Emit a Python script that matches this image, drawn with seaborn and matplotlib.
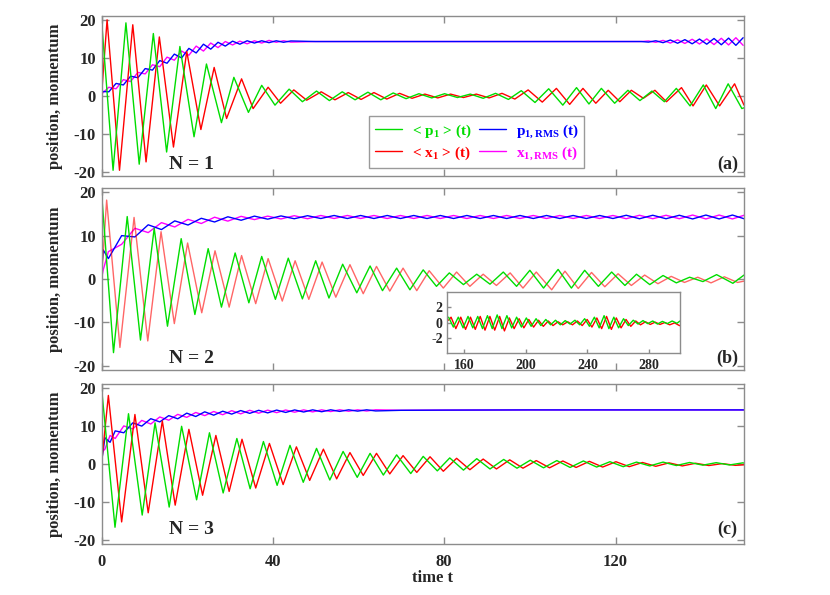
import numpy as np
import pandas as pd
import seaborn as sns
import matplotlib.pyplot as plt
from matplotlib.lines import Line2D

# ---------------------------------------------
# damped oscillations of <p1>, <x1> and the RMS widths, N = 1, 2, 3
# values are the extrema
# ---------------------------------------------

# ---- panel (a): N = 1 ----
a_p_t = [0.0, 2.7, 5.7, 8.8, 12.1, 15.2, 18.3, 21.6, 24.5, 28.0, 30.9, 34.3, 37.4, 40.5, 43.8, 46.9,
         50.2, 53.2, 56.2, 59.2, 62.2, 65.2, 68.1, 71.1, 74.1, 77.1, 80.1, 83.1, 86.1, 89.1, 92.0, 95.0,
         98.0, 101.2, 104.4, 107.7, 110.9, 113.8, 116.7, 119.8, 122.9, 125.7, 128.5, 131.4, 134.2, 137.4,
         140.5, 143.4, 146.3, 149.5, 150.0]
a_p = [20.0, -19.5, 19.2, -17.9, 16.4, -14.7, 13.0, -10.7, 8.4, -7.0, 4.9, -4.3, 2.8, -2.4, 1.8, -1.5,
       1.3, -1.2, 1.1, -1.0, 1.0, -1.0, 0.8, -0.7, 0.6, -0.5, 0.6, -0.4, 0.5, -0.6, 0.7, -0.9,
       1.4, -1.7, 1.9, -2.4, 2.2, -2.1, 2.0, -1.9, 1.5, -1.2, 1.3, -1.5, 2.0, -2.6,
       2.9, -3.3, 3.2, -3.3, -3.1]
a_x_t = [0.0, 1.3, 4.2, 7.3, 10.4, 13.5, 16.8, 19.9, 23.2, 26.3, 29.2, 32.7, 35.4, 38.9, 41.8, 44.9,
         47.9, 51.3, 54.5, 57.6, 60.6, 63.6, 66.6, 69.6, 72.5, 75.5, 78.5, 81.5, 84.5, 87.5, 90.5, 93.5,
         96.5, 99.6, 102.9, 106.2, 109.3, 112.4, 115.4, 118.3, 121.0, 123.7, 126.5, 129.2, 131.9, 135.4,
         138.1, 141.2, 144.3, 147.8, 150.0]
a_x = [0.0, 20.0, -19.5, 18.7, -17.3, 15.5, -13.4, 11.7, -8.8, 7.5, -5.9, 4.5, -3.3, 2.3, -1.9, 1.6,
       -1.1, 1.1, -1.0, 0.9, -0.9, 0.9, -0.8, 0.7, -0.6, 0.5, -0.5, 0.5, -0.4, 0.5, -0.5, 0.7,
       -0.8, 1.6, -1.6, 2.0, -2.2, 2.0, -1.9, 1.5, -1.5, 1.5, -0.6, 1.5, -1.5, 2.2,
       -2.6, 2.9, -2.6, 3.2, -2.4]
a_rms_t = [0.0, 1.7, 3.4, 5.1, 6.8, 8.5, 10.2, 11.9, 13.6, 15.3, 17.0, 18.7, 20.4, 22.1, 23.8, 25.5,
           27.2, 28.9, 30.6, 32.3, 34.0, 35.7, 37.4, 39.1, 40.8, 42.5, 44.2,
           50.0, 60.0, 70.0, 80.0, 90.0, 100.0, 110.0, 120.0, 126.0,
           127.7, 129.4, 131.1, 132.8, 134.5, 136.2, 137.9, 139.6, 141.3, 143.0, 144.7, 146.4, 148.1, 149.8]
a_p_rms = [1.2, 1.1, 3.3, 2.9, 5.2, 4.8, 7.2, 6.8, 9.3, 8.6, 11.0, 10.0, 12.5, 11.3, 13.6, 12.3,
           14.1, 13.1, 14.4, 13.6, 14.5, 13.9, 14.5, 14.0, 14.5, 14.1, 14.45,
           14.3, 14.3, 14.3, 14.3, 14.3, 14.3, 14.3, 14.3, 14.3,
           14.15, 14.5, 14.0, 14.7, 13.85, 14.8, 13.7, 14.95, 13.6, 15.1, 13.45, 15.2, 13.3, 15.3]
a_x_rms = [0.5, 2.3, 1.9, 4.3, 3.8, 6.2, 5.8, 8.2, 7.7, 10.2, 9.4, 11.8, 10.7, 13.1, 11.8, 13.9,
           12.7, 14.3, 13.4, 14.4, 13.7, 14.5, 13.9, 14.6, 14.1, 14.5, 14.15,
           14.3, 14.3, 14.3, 14.3, 14.3, 14.3, 14.3, 14.3, 14.3,
           14.45, 14.1, 14.6, 13.9, 14.75, 13.8, 14.9, 13.65, 15.0, 13.5, 15.15, 13.4, 15.3, 13.3]

# ---- panel (b): N = 2 ----
b_p_t = [0.0, 2.8, 6.0, 9.1, 12.3, 15.4, 18.6, 21.8, 24.9, 28.0, 31.2, 34.4, 37.4, 40.6, 43.6, 46.9,
         50.0, 53.1, 56.3, 59.6, 62.7, 65.6, 68.9, 72.0, 75.1, 78.2, 81.2, 84.5, 87.6, 90.7, 93.8, 96.9,
         100.0, 103.2, 106.6, 109.7, 112.8, 116.0, 119.1, 122.2, 124.9, 128.0, 131.1, 134.2, 137.3, 140.4,
         143.6, 147.4, 150.0]
b_p = [20.0, -17.0, 14.4, -14.1, 11.7, -10.9, 9.3, -8.2, 7.0, -6.5, 6.0, -5.5, 5.2, -4.7, 4.8, -4.6,
       4.2, -4.4, 3.4, -3.2, 3.0, -2.7, 2.5, -2.5, 2.1, -1.7, 1.4, -1.3, 1.1, -1.2, 1.6, -1.7,
       2.0, -2.1, 2.2, -2.1, 2.0, -1.7, 1.6, -1.5, 1.1, -1.3, 0.8, -0.9, 0.4, -0.6,
       1.0, -1.0, 0.9]
b_x_t = [0.0, 1.2, 4.3, 7.6, 10.8, 13.9, 17.0, 20.1, 23.4, 26.5, 29.8, 32.7, 36.0, 38.9, 42.2, 45.2,
         48.4, 51.5, 54.7, 58.0, 61.1, 64.2, 67.3, 70.4, 73.6, 76.5, 79.8, 82.9, 86.0, 89.1, 92.2, 95.4,
         98.4, 101.5, 105.1, 108.2, 111.3, 114.4, 117.5, 120.6, 123.7, 126.8, 129.9, 133.0, 136.1, 139.2,
         142.3, 145.4, 148.5, 150.0]
b_x = [0.0, 18.2, -15.8, 14.2, -14.3, 10.9, -10.3, 8.3, -7.8, 6.5, -6.5, 5.4, -5.7, 4.7, -5.1, 4.2,
       -4.7, 3.9, -4.2, 3.3, -3.4, 2.9, -2.8, 2.5, -2.7, 1.9, -2.1, 1.6, -1.7, 1.1, -1.5, 1.4,
       -2.1, 1.6, -2.5, 1.8, -2.2, 1.5, -1.8, 1.2, -1.5, 0.9, -1.1, 0.6, -0.8, 0.4,
       -0.9, 0.5, -0.8, -0.5]
b_rms_t = [0.0, 0.4, 1.6, 4.7, 7.8, 10.9, 14.0, 17.1, 20.2, 23.3, 26.4, 29.5, 32.6, 35.7, 38.8, 41.9,
           45.0, 48.1, 51.2, 54.3, 57.4, 60.5, 63.6, 66.7, 69.8, 72.9, 76.0, 79.1, 82.2, 85.3, 88.4, 91.5,
           94.6, 97.7, 100.8, 103.9, 107.0, 110.1, 113.2, 116.3, 119.4, 122.5, 125.6, 128.7, 131.8, 134.9,
           138.0, 141.1, 144.2, 147.3, 150.0]
b_p_rms = [1.7, 6.7, 4.7, 10.0, 9.7, 12.5, 11.4, 13.4, 12.45, 14.0, 13.15, 14.35, 13.55, 14.5, 13.8, 14.55,
           13.9, 14.6, 13.95, 14.65, 13.95, 14.65, 13.95, 14.65, 13.95, 14.65, 13.95, 14.65, 13.95, 14.65, 13.95, 14.65,
           13.95, 14.65, 13.95, 14.65, 13.95, 14.65, 13.95, 14.65, 13.95, 14.7, 13.9, 14.7, 13.9, 14.7,
           13.85, 14.75, 13.85, 14.75, 13.9]
b_x_rms = [0.0, 2.1, 6.3, 8.0, 11.7, 10.7, 13.0, 12.0, 13.75, 12.8, 14.25, 13.35, 14.45, 13.7, 14.5, 13.85,
           14.6, 13.9, 14.65, 13.95, 14.65, 13.95, 14.65, 13.95, 14.65, 13.95, 14.65, 13.95, 14.65, 13.95, 14.65, 13.95,
           14.65, 13.95, 14.65, 13.95, 14.65, 13.95, 14.65, 13.95, 14.65, 13.9, 14.7, 13.9, 14.7, 13.9,
           14.75, 13.85, 14.75, 13.85, 14.7]

# inset of panel (b): later times
ins_p_t = [150.0, 153.1, 156.3, 159.4, 162.6, 165.7, 168.9, 172.0, 175.2, 178.3, 181.5, 184.6, 187.8, 190.9,
           194.1, 197.2, 200.4, 203.5, 206.7, 209.8, 213.0, 216.1, 219.3, 222.4, 225.6, 228.7, 231.9, 235.0,
           238.2, 241.3, 244.5, 247.6, 250.8, 253.9, 257.1, 260.2, 263.4, 266.5, 269.7, 272.8, 276.0, 279.1,
           282.3, 285.4, 288.6, 291.7, 294.9, 298.0, 300.0]
ins_p = [0.7, -0.6, 0.7, -0.7, 0.8, -0.7, 0.8, -0.8, 0.9, -0.8, 1.0, -0.8, 0.9, -0.7,
         0.7, -0.6, 0.6, -0.5, 0.5, -0.4, 0.4, -0.3, 0.3, -0.3, 0.25, -0.2, 0.3, -0.3,
         0.5, -0.5, 0.7, -0.7, 0.9, -0.8, 0.7, -0.7, 0.5, -0.4, 0.3, -0.2, 0.25, -0.15,
         0.2, -0.2, 0.15, -0.15, 0.2, -0.1, 0.2]
ins_x_t = [150.0, 151.6, 154.7, 157.9, 161.0, 164.2, 167.3, 170.5, 173.6, 176.8, 179.9, 183.1, 186.2, 189.4,
           192.5, 195.7, 198.8, 202.0, 205.1, 208.3, 211.4, 214.6, 217.7, 220.9, 224.0, 227.2, 230.3, 233.5,
           236.6, 239.8, 242.9, 246.1, 249.2, 252.4, 255.5, 258.7, 261.8, 265.0, 268.1, 271.3, 274.4, 277.6,
           280.7, 283.9, 287.0, 290.2, 293.3, 296.5, 299.6, 300.0]
ins_x = [0.3, 0.7, -0.8, 0.7, -0.9, 0.7, -0.9, 0.8, -1.0, 0.8, -1.0, 0.8, -1.1, 0.6,
         -0.8, 0.5, -0.7, 0.4, -0.6, 0.3, -0.5, 0.2, -0.4, 0.1, -0.3, 0.1, -0.3, 0.2,
         -0.4, 0.4, -0.6, 0.6, -0.8, 0.8, -0.9, 0.6, -0.7, 0.4, -0.5, 0.2, -0.3, 0.1,
         -0.25, 0.05, -0.25, 0.0, -0.3, -0.05, -0.4, -0.4]

# ---- panel (c): N = 3 ----
c_p_t = [0.0, 3.15, 6.3, 9.5, 12.5, 15.8, 18.7, 22.2, 25.2, 28.4, 31.6, 34.7, 37.8, 41.0, 44.0, 47.1,
         50.2, 53.3, 56.4, 59.7, 62.7, 65.8, 68.9, 72.2, 75.1, 78.4, 81.3, 84.5, 87.6, 90.7, 93.9, 97.0,
         100.1, 103.2, 106.3, 109.4, 112.5, 115.6, 118.7, 121.8, 124.9, 128.0, 131.1, 134.2, 137.3, 140.4,
         143.5, 146.6, 149.7, 150.0]
c_p = [20.0, -16.6, 13.2, -13.4, 10.8, -11.3, 9.9, -9.4, 8.2, -7.6, 6.7, -6.5, 5.9, -5.6, 4.9, -4.8,
       4.1, -4.2, 3.3, -3.5, 2.8, -2.9, 2.4, -2.5, 2.0, -1.8, 1.6, -1.6, 1.4, -1.3, 1.2, -1.1,
       1.0, -1.0, 0.9, -0.9, 0.8, -0.8, 0.6, -0.7, 0.5, -0.5, 0.5, -0.4, 0.4, -0.3,
       0.35, -0.25, 0.3, 0.25]
c_x_t = [0.0, 1.6, 4.7, 7.8, 10.9, 14.2, 17.2, 20.4, 23.6, 26.7, 29.8, 32.8, 36.0, 39.2, 42.4, 45.5,
         48.6, 51.8, 54.9, 58.0, 61.1, 64.2, 67.3, 70.4, 73.6, 76.7, 79.8, 82.9, 86.0, 89.1, 92.2, 95.3,
         98.4, 101.5, 104.6, 107.7, 110.8, 113.9, 117.0, 120.1, 123.2, 126.3, 129.4, 132.5, 135.6, 138.7,
         141.8, 144.9, 148.0, 150.0]
c_x = [0.0, 18.0, -15.2, 13.0, -12.8, 11.3, -10.8, 9.1, -8.2, 7.5, -7.2, 6.5, -6.3, 5.4, -5.4, 4.5,
       -4.3, 3.9, -3.9, 3.0, -3.0, 2.8, -2.6, 2.2, -2.2, 1.9, -1.9, 1.5, -1.5, 1.3, -1.3, 1.1,
       -1.1, 0.9, -1.0, 0.8, -0.9, 0.7, -0.8, 0.6, -0.7, 0.4, -0.6, 0.3, -0.5, 0.2,
       -0.4, 0.1, -0.35, -0.2]
c_rms_t = [0.0, 0.8, 2.0, 3.2, 5.2, 7.3, 9.4, 11.5, 13.6, 15.7, 17.8, 19.9, 22.0, 24.1, 26.2, 28.3,
           30.4, 32.5, 34.6, 36.7, 38.8, 40.9, 43.0, 45.1, 47.2, 49.3, 51.4, 53.5, 55.6, 57.7, 59.8, 61.9,
           64.0, 70.0, 80.0, 100.0, 120.0, 150.0]
c_p_rms = [0.4, 6.9, 5.7, 8.7, 8.2, 10.8, 9.95, 11.9, 11.05, 12.7, 11.87, 13.35, 12.47, 13.7, 12.82, 13.86,
           13.1, 14.03, 13.3, 14.1, 13.42, 14.16, 13.54, 14.2, 13.65, 14.22, 13.72, 14.23, 13.81, 14.23, 13.88, 14.23,
           13.93, 14.1, 14.15, 14.2, 14.2, 14.2]
c_x_rms = [3.0, 3.9, 7.5, 6.7, 10.0, 9.2, 11.45, 10.5, 12.35, 11.5, 13.03, 12.25, 13.53, 12.7, 13.78, 12.94,
           14.0, 13.17, 14.1, 13.34, 14.14, 13.48, 14.18, 13.6, 14.21, 13.68, 14.22, 13.77, 14.23, 13.85, 14.22, 13.91,
           14.23, 14.1, 14.15, 14.2, 14.2, 14.2]

# colours / labels
GREEN, RED, BLUE, MAGENTA = '#00dd00', '#ff0000', '#0000ff', '#ff00ff'
FRAME = '#8c8c8c'
legend_labels = ['< p$_1$ > (t)', '< x$_1$ > (t)', 'p$_{1,RMS}$ (t)', 'x$_{1,RMS}$ (t)']


def draw(ax, t, v, color, lw=1.0, alpha=1.0):
    df = pd.DataFrame({'t': t, 'v': v})
    sns.lineplot(data=df, x='t', y='v', ax=ax, color=color, lw=lw, alpha=alpha,
                 sort=False, estimator=None, legend=False)


def style_axes(ax, xlim, ylim, xticks, yticks, size=12):
    ax.set_xlim(*xlim)
    ax.set_ylim(*ylim)
    ax.set_xticks(xticks)
    ax.set_yticks(yticks)
    ax.set_xlabel('')
    ax.set_ylabel('')
    ax.tick_params(direction='in', top=True, right=True, length=5, width=1,
                   color=FRAME, labelsize=size)
    ax.tick_params(axis='x', pad=7)
    ax.tick_params(axis='y', pad=4)
    for sp in ax.spines.values():
        sp.set_color(FRAME)
        sp.set_linewidth(1.0)
        sp.set_visible(True)
    for lab in ax.get_xticklabels() + ax.get_yticklabels():
        lab.set_fontweight('bold')


def main():
    sns.set_theme(style='ticks')
    plt.rcParams['font.family'] = ['Liberation Serif', 'DejaVu Serif']
    plt.rcParams['font.weight'] = 'bold'
    plt.rcParams['axes.unicode_minus'] = False
    plt.rcParams['mathtext.fontset'] = 'custom'
    plt.rcParams['mathtext.rm'] = 'Liberation Serif:bold'
    plt.rcParams['mathtext.it'] = 'Liberation Serif:bold'
    plt.rcParams['mathtext.bf'] = 'Liberation Serif:bold'

    fig = plt.figure(figsize=(8.3, 5.95), dpi=100)
    ax_a = fig.add_axes([0.1223, 0.7042, 0.7741, 0.2689])
    ax_b = fig.add_axes([0.1223, 0.3782, 0.7741, 0.3059])
    ax_c = fig.add_axes([0.1223, 0.0857, 0.7741, 0.2689])

    panels = [
        (ax_a, a_p_t, a_p, a_x_t, a_x, a_rms_t, a_p_rms, a_x_rms, 'N = 1', '(a)', 0.075, 1.0),
        (ax_b, b_p_t, b_p, b_x_t, b_x, b_rms_t, b_p_rms, b_x_rms, 'N = 2', '(b)', 0.064, 0.6),
        (ax_c, c_p_t, c_p, c_x_t, c_x, c_rms_t, c_p_rms, c_x_rms, 'N = 3', '(c)', 0.09, 1.0),
    ]
    for ax, pt, p, xt, x, rt, prms, xrms, ntext, tag, ty, red_alpha in panels:
        draw(ax, rt, xrms, MAGENTA)
        draw(ax, rt, prms, BLUE)
        draw(ax, xt, x, RED, lw=1.0, alpha=red_alpha)
        draw(ax, pt, p, GREEN)
        style_axes(ax, (0, 150), (-21, 21), [0, 40, 80, 120], [-20, -10, 0, 10, 20])
        ax.set_ylabel('position, momentum', fontsize=12, fontweight='bold', labelpad=8)
        ax.text(0.14, ty, ntext, transform=ax.transAxes, ha='center', va='center',
                fontsize=14, fontweight='bold')
        ax.text(0.974, ty, tag, transform=ax.transAxes, ha='center', va='center',
                fontsize=13, fontweight='bold')

    for ax in (ax_a, ax_b):
        ax.set_xticklabels([])
    ax_c.set_xlabel('time t', fontsize=12, fontweight='bold', labelpad=0)
    ax_c.xaxis.set_label_coords(0.515, -0.165)

    # legend in panel (a)
    handles = [Line2D([], [], color=c, lw=1.0) for c in (GREEN, RED, BLUE, MAGENTA)]
    leg = ax_a.legend(handles, legend_labels, ncol=2, loc='lower left',
                      bbox_to_anchor=(0.416, 0.05), borderaxespad=0, fontsize=11,
                      handlelength=1.8, handletextpad=0.6, columnspacing=0.5,
                      labelspacing=0.3, borderpad=0.4, fancybox=False, framealpha=1)
    leg.get_frame().set_edgecolor('#9a9a9a')
    leg.get_frame().set_linewidth(1.0)
    for txt, c in zip(leg.get_texts(), (GREEN, RED, BLUE, MAGENTA)):
        txt.set_color(c)

    # inset of panel (b)
    ax_in = fig.add_axes([0.5386, 0.4067, 0.2807, 0.1025])
    draw(ax_in, ins_x_t, ins_x, RED)
    draw(ax_in, ins_p_t, ins_p, GREEN)
    style_axes(ax_in, (149, 300), (-4, 4), [160, 200, 240, 280], [-2, 0, 2], size=10)
    ax_in.tick_params(length=3, top=False, right=False)
    ax_in.tick_params(axis='x', pad=4)
    ax_in.tick_params(axis='y', pad=3)

    fig.savefig('out.png', dpi=100)
    plt.close(fig)


if __name__ == '__main__':
    main()
